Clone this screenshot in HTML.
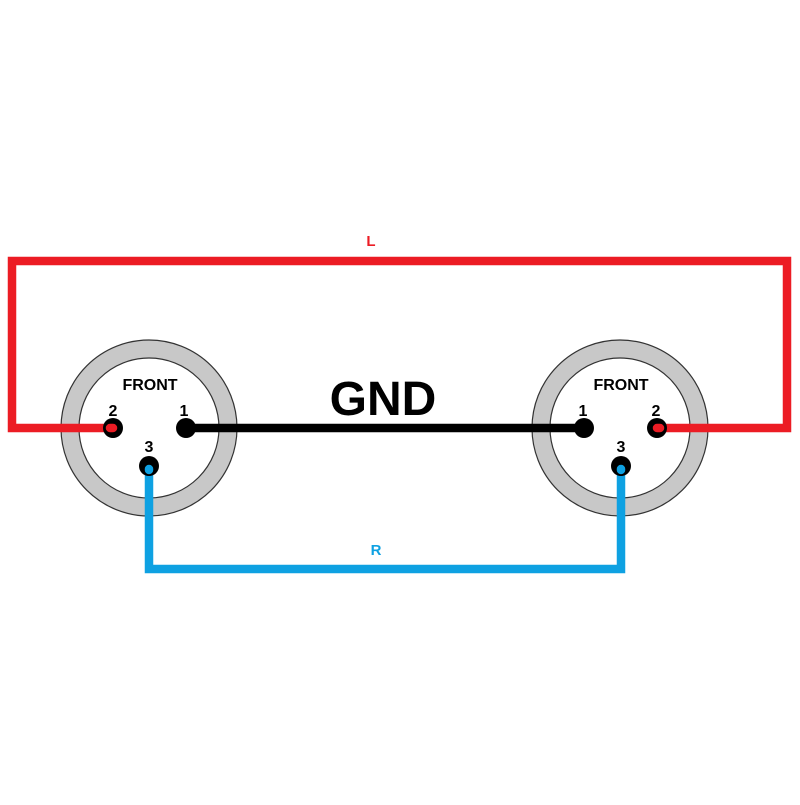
<!DOCTYPE html>
<html><head><style>body{margin:0;background:#fff}</style></head><body>
<svg width="800" height="800" xmlns="http://www.w3.org/2000/svg" font-family="Liberation Sans, sans-serif" font-weight="bold">
<g fill="#c8c8c8" stroke="#333" stroke-width="1.2">
<circle cx="149" cy="428" r="88"/><circle cx="620" cy="428" r="88"/></g>
<g fill="#fff" stroke="#333" stroke-width="1.2">
<circle cx="149" cy="428" r="70"/><circle cx="620" cy="428" r="70"/></g>
<polyline points="113,428 12,428 12,261 787,261 787,428 657,428" fill="none" stroke="#ec1c24" stroke-width="8.5"/>
<polyline points="149,466 149,569 621,569 621,466" fill="none" stroke="#0ea1e2" stroke-width="8.5"/>
<line x1="186" y1="428" x2="584" y2="428" stroke="#000" stroke-width="8.5"/>
<g fill="#000"><circle cx="113" cy="428" r="10"/><circle cx="186" cy="428" r="10"/><circle cx="149" cy="466" r="10"/>
<circle cx="584" cy="428" r="10"/><circle cx="657" cy="428" r="10"/><circle cx="621" cy="466" r="10"/></g>
<g stroke-linecap="round" stroke-width="8.5"><line x1="113" y1="428" x2="110" y2="428" stroke="#ec1c24"/><line x1="657" y1="428" x2="660" y2="428" stroke="#ec1c24"/>
<line x1="149" y1="469" x2="149" y2="470" stroke="#0ea1e2"/><line x1="621" y1="469" x2="621" y2="470" stroke="#0ea1e2"/></g>
<g font-size="16" text-anchor="middle">
<text x="150" y="390">FRONT</text><text x="621" y="390">FRONT</text>
<text x="113" y="416">2</text><text x="184" y="416">1</text><text x="149" y="452">3</text>
<text x="583" y="416">1</text><text x="656" y="416">2</text><text x="621" y="452">3</text>
<text x="371" y="246" fill="#ec1c24" font-size="15">L</text>
<text x="376" y="555" fill="#0ea1e2" font-size="15">R</text>
<text x="383" y="415" font-size="48">GND</text></g>
</svg></body></html>
